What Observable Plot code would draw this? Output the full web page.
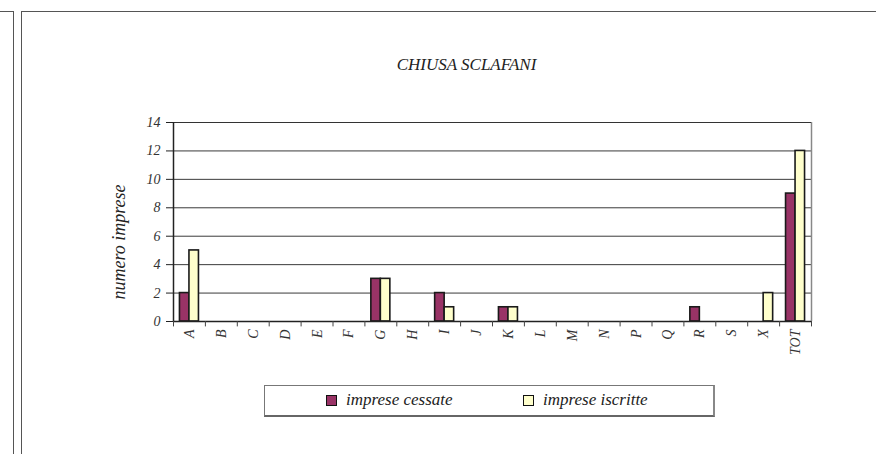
<!DOCTYPE html>
<html><head><meta charset="utf-8">
<script src="https://cdn.jsdelivr.net/npm/d3@7"></script>
<script src="https://cdn.jsdelivr.net/npm/@observablehq/plot@0.6"></script>
<style>
body{margin:0;background:#fff;width:876px;height:454px;overflow:hidden;position:relative;font-family:"Liberation Serif","Times New Roman",serif;}
#chart{position:absolute;left:0;top:0;}
#chart svg text{font-family:"Liberation Serif","Times New Roman",serif;font-style:italic;}
.box{position:absolute;box-sizing:border-box;}
#legend{position:absolute;left:264px;top:385px;width:451px;height:32px;border:1px solid #777;border-right:2px solid #888;border-bottom:2px solid #666;box-sizing:border-box;font-style:italic;font-size:17px;color:#222;}
.sw{position:absolute;top:9px;width:11px;height:11px;box-sizing:border-box;border:1.8px solid #111;}
.lt{position:absolute;top:4px;white-space:nowrap;}
</style></head>
<body>
<div class="box" style="left:-10px;top:11px;width:24px;height:460px;border:1.5px solid #555;"></div>
<div class="box" style="left:21px;top:11px;width:870px;height:460px;border:1.5px solid #555;"></div>
<div id="chart"></div>
<div id="legend">
  <div class="sw" style="left:61px;background:#993366"></div><div class="lt" style="left:81px">imprese cessate</div>
  <div class="sw" style="left:258px;background:#ffffcc"></div><div class="lt" style="left:278px">imprese iscritte</div>
</div>
<script>
const categories = ["A","B","C","D","E","F","G","H","I","J","K","L","M","N","P","Q","R","S","X","TOT"];
const cessate  = [2,0,0,0,0,0,3,0,2,0,1,0,0,0,0,0,1,0,0,9];
const iscritte = [5,0,0,0,0,0,3,0,1,0,1,0,0,0,0,0,0,0,2,12];
const yTicks = [0,2,4,6,8,10,12,14];
const seriesNames = ["imprese cessate","imprese iscritte"];
const title = "CHIUSA SCLAFANI";
const yLabel = "numero imprese";

const W = 876, H = 454;
const mL = 173, mR = 65, mT = 122, mB = 133;
const plotW = W - mL - mR;
const bw = plotW / categories.length;
const barW = 9.5;

const rows = [];
categories.forEach((c, i) => {
  rows.push({cat: c, s: seriesNames[0], v: cessate[i]});
  rows.push({cat: c, s: seriesNames[1], v: iscritte[i]});
});
const bars = rows.filter(d => d.v > 0);
const serif = "Liberation Serif, Times New Roman, serif";

const chart = Plot.plot({
  width: W, height: H,
  marginLeft: mL, marginRight: mR, marginTop: mT, marginBottom: mB,
  style: {fontFamily: serif, fontSize: "14px", fontStyle: "italic", color: "#333", background: "transparent"},
  x: {domain: categories, padding: 0, round: false, label: null},
  y: {domain: [0, 14], label: null},
  marks: [
    Plot.ruleY(yTicks.filter(t => t > 0), {y: d => d, stroke: "#3a3a3a", strokeWidth: 1}),
    Plot.ruleX([categories[categories.length-1]], {x: d => d, dx: bw/2, y1: 0, y2: 14, stroke: "#888", strokeWidth: 1.5}),
    Plot.ruleY([14], {y: d => d, stroke: "#333", strokeWidth: 1.2}),
    Plot.barY(bars.filter(d => d.s === seriesNames[0]), {x: "cat", y: "v", fill: "#993366", stroke: "#1a1a1a", strokeWidth: 1.6,
      insetLeft: bw/2 - barW, insetRight: bw/2}),
    Plot.barY(bars.filter(d => d.s === seriesNames[1]), {x: "cat", y: "v", fill: "#ffffcc", stroke: "#1a1a1a", strokeWidth: 1.6,
      insetLeft: bw/2, insetRight: bw/2 - barW}),
    Plot.ruleY([0], {y: d => d, stroke: "#222", strokeWidth: 1.5}),
    Plot.ruleX([categories[0]], {x: d => d, dx: -bw/2, y1: 0, y2: 14, stroke: "#222", strokeWidth: 1.5}),
    Plot.ruleX(categories, {x: d => d, dx: -bw/2, y1: 0, y2: -0.38, stroke: "#444", strokeWidth: 1}),
    Plot.ruleX([categories[categories.length-1]], {x: d => d, dx: bw/2, y1: 0, y2: -0.38, stroke: "#444", strokeWidth: 1}),
    Plot.axisY({ticks: yTicks, tickSize: 7, tickPadding: 6, stroke: "#222", label: null, fontSize: 14, fontFamily: serif, fill: "#333"}),
    Plot.axisX({tickSize: 0, tickPadding: 8, tickRotate: -90, label: null, fontSize: 14, fontFamily: serif, fill: "#333"}),
    Plot.text([yLabel], {frameAnchor: "left", textAnchor: "middle", dx: -54, dy: 20, rotate: -90, text: d => d, fontSize: 18, fontFamily: serif, fontStyle: "italic", fill: "#222"}),
    Plot.text([title], {frameAnchor: "top", textAnchor: "middle", dy: -65, dx: 466 - (mL + plotW/2), text: d => d, fontSize: 17, fontFamily: serif, fontStyle: "italic", fill: "#222"})
  ]
});
document.getElementById("chart").append(chart);
</script>
</body></html>
